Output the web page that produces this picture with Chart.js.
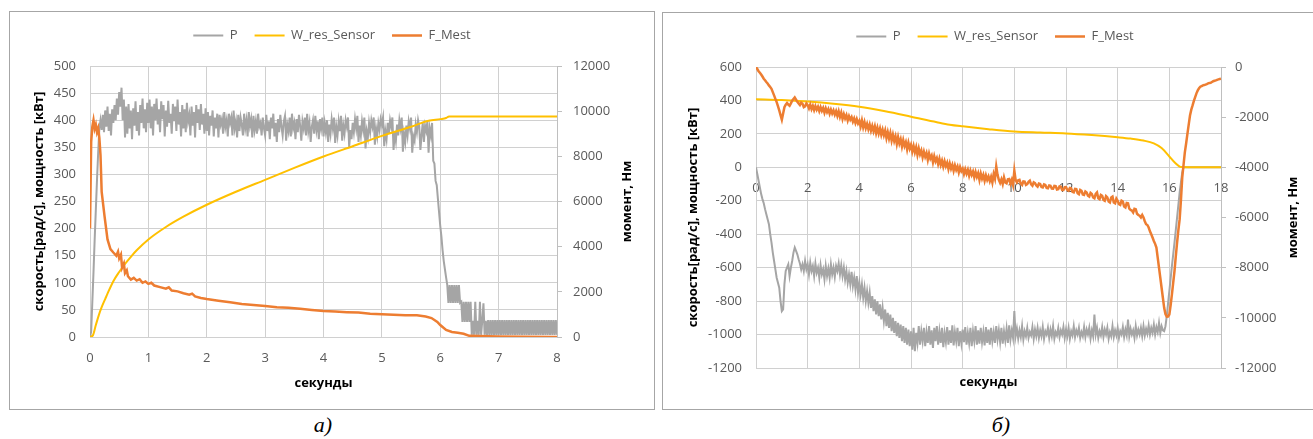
<!DOCTYPE html>
<html lang="ru">
<head>
<meta charset="utf-8">
<title>P, W_res_Sensor, F_Mest</title>
<script src="https://cdn.jsdelivr.net/npm/chart.js@4.4.1/dist/chart.umd.min.js"></script>
<style>
  html, body { margin: 0; padding: 0; background: #fff; }
  body { position: relative; width: 1313px; height: 439px; overflow: hidden; }
  .frame { position: absolute; border: 1px solid #a6a6a6; }
  .frame canvas { display: block; }
  #frameA { left: 9px; top: 11px; }
  #frameB { left: 662px; top: 12px; }
  .caption { position: absolute; top: 414px; width: 80px; text-align: center;
    font: italic 22px/22px "Liberation Serif", "DejaVu Serif", serif; color: #000; }
</style>
</head>
<body>
<div class="frame" id="frameA"><canvas id="chartA" width="644" height="397"></canvas></div>
<div class="frame" id="frameB"><canvas id="chartB" width="664" height="396"></canvas></div>
<div class="caption" style="left:283px">а)</div>
<div class="caption" style="left:961px">б)</div>
<script>
// Графики разгона (а) и торможения (б)

const LABELS = ['P', 'W_res_Sensor', 'F_Mest'];
const X_TITLE = 'секунды';
const Y_TITLE = 'скорость[рад/с], мощность [кВт]';
const Y2_TITLE = 'момент, Нм';

const GREY = '#a5a5a5';
const YELLOW = '#ffc000';
const ORANGE = '#ed7d31';
const GRID = '#d0d0d0';

// ---- а) разгон: ось X 0..8 с ----
const A_X_TICKS = [0, 8, 1];
const A_Y_TICKS = [0, 500, 50];
const A_Y2_TICKS = [0, 12000, 2000];

// P, кВт, шаг 0.02 с (по 50 точек на секунду)
const A_P_DT = 0.02;
const A_P = [
  // 0 c
  0, 10, 65, 120, 180, 235, 290, 340, 385, 400,
  382, 410, 378, 418, 388, 425, 380, 412, 372, 420,
  395, 428, 400, 440, 410, 452, 425, 460, 400, 438,
  368, 425, 375, 430, 385, 418, 365, 422, 390, 435,
  380, 415, 372, 428, 395, 440, 385, 420, 378, 432,
  // 1 c
  395, 438, 385, 425, 372, 430, 400, 440, 392, 420,
  378, 435, 402, 428, 370, 418, 388, 436, 395, 412,
  375, 430, 398, 425, 380, 438, 392, 415, 370, 428,
  385, 420, 378, 432, 398, 410, 372, 425, 390, 415,
  368, 428, 395, 420, 382, 430, 392, 412, 375, 422,
  // 2 c
  380, 415, 372, 408, 390, 418, 370, 405, 385, 412,
  368, 410, 392, 402, 375, 415, 388, 400, 370, 412,
  395, 405, 372, 418, 385, 398, 368, 410, 380, 405,
  392, 372, 412, 385, 400, 370, 415, 390, 402, 368,
  408, 382, 398, 375, 412, 388, 395, 372, 405, 385,
  // 3 c
  372, 410, 380, 398, 365, 405, 385, 412, 370, 395,
  360, 402, 378, 410, 388, 372, 398, 408, 362, 392,
  380, 405, 370, 412, 385, 395, 365, 402, 378, 410,
  390, 362, 398, 385, 405, 372, 412, 380, 395, 360,
  388, 400, 375, 408, 382, 398, 365, 402, 385, 405,
  // 4 c
  370, 395, 378, 400, 360, 392, 375, 402, 385, 405,
  358, 388, 372, 398, 380, 408, 362, 390, 375, 400,
  388, 405, 350, 382, 365, 395, 378, 402, 385, 408,
  360, 390, 372, 398, 382, 405, 348, 380, 368, 395,
  378, 400, 388, 405, 355, 385, 370, 395, 382, 402,
  // 5 c
  392, 405, 352, 380, 365, 395, 375, 400, 388, 405,
  345, 378, 362, 392, 372, 400, 385, 405, 342, 375,
  360, 390, 372, 398, 385, 405, 340, 370, 362, 392,
  378, 400, 388, 345, 372, 395, 360, 390, 380, 398,
  340, 385, 372, 395, 325, 320, 288, 280, 255, 230,
  // 6 c
  205, 185, 160, 140, 125, 110, 96, 63, 96, 63,
  96, 63, 96, 63, 96, 63, 96, 63, 65, 28,
  65, 28, 65, 28, 65, 28, 65, 4, 30, 4,
  65, 4, 30, 4, 65, 4, 30, 62, 4, 30,
  4, 31, 4, 31, 4, 31, 4, 31, 4, 31,
  // 7 c
  4, 31, 4, 31, 4, 31, 4, 31, 4, 31,
  4, 31, 4, 31, 4, 31, 4, 31, 4, 31,
  4, 31, 4, 31, 4, 31, 4, 31, 4, 31,
  4, 31, 4, 31, 4, 31, 4, 31, 4, 31,
  4, 31, 4, 31, 4, 31, 4, 31, 4, 31,
  // 8 c
  4,
];

// W_res_Sensor, рад/с: [t, value]
const A_W = [
  [0, 0], [0.05, 3], [0.1, 22], [0.15, 40], [0.2, 55], [0.26, 70], [0.3, 80], [0.4, 103],
  [0.5, 120], [0.6, 135], [0.7, 148], [0.8, 160], [1.0, 180], [1.3, 203], [1.6, 222],
  [2.0, 244], [2.5, 268], [3.0, 290], [3.5, 312], [4.0, 333], [4.5, 352], [5.0, 371],
  [5.5, 388], [5.8, 399], [6.0, 402], [6.1, 404], [6.15, 407], [8, 407],
];

// F_Mest, Нм: [t, value]
const A_F = [
  [0, 4800], [0.02, 8640], [0.04, 9310], [0.06, 9600], [0.08, 9220], [0.1, 9400], [0.12, 9070],
  [0.14, 9240], [0.16, 8830], [0.18, 8040], [0.2, 6430], [0.25, 5330], [0.3, 4320], [0.35, 3890],
  [0.4, 3740], [0.45, 3600], [0.48, 3780], [0.5, 3480], [0.53, 3650], [0.55, 3070], [0.58, 3250],
  [0.6, 2830], [0.63, 2950], [0.65, 2690], [0.7, 2540], [0.75, 2620], [0.8, 2500], [0.85, 2560],
  [0.9, 2400], [0.95, 2460], [1.0, 2350], [1.05, 2400], [1.1, 2280], [1.2, 2210], [1.3, 2140],
  [1.35, 2200], [1.4, 2060], [1.5, 2020], [1.6, 1940], [1.7, 1870], [1.75, 1920], [1.8, 1800],
  [1.9, 1730], [2.0, 1680], [2.2, 1610], [2.4, 1540], [2.6, 1460], [2.8, 1420], [3.0, 1370],
  [3.2, 1320], [3.4, 1300], [3.6, 1250], [3.8, 1200], [4.0, 1150], [4.2, 1130], [4.4, 1100],
  [4.6, 1080], [4.8, 1030], [5.0, 1010], [5.2, 985], [5.4, 960], [5.6, 960], [5.75, 910],
  [5.85, 840], [5.95, 670], [6.0, 530], [6.1, 310], [6.2, 220], [6.3, 190], [6.4, 145],
  [6.5, 50], [7.0, 25], [8.0, 5],
];

// ---- б) торможение: ось X 0..18 с ----
const B_X_TICKS = [0, 18, 2];
const B_Y_TICKS = [-1200, 600, 200];
const B_Y2_TICKS = [-12000, 0, 2000];

// P, кВт, шаг 0.05 с (по 20 точек на секунду)
const B_P_DT = 0.05;
const B_P = [
  0, -40, -80, -120, -160, -190, -215, -250, -280, -310, -340, -400, -450, -510, -560, -610, -660, -690, -720, -800,
  -860, -850, -700, -620, -600, -580, -650, -600, -560, -510, -480, -500, -520, -550, -575, -610, -580, -620, -560, -610,
  -580, -640, -570, -620, -590, -650, -575, -630, -600, -660, -585, -640, -610, -670, -590, -650, -605, -660, -580, -640,
  -600, -655, -590, -620, -575, -640, -585, -650, -600, -670, -620, -690, -640, -700, -625, -710, -660, -730, -650, -750,
  -690, -760, -700, -780, -720, -800, -740, -810, -750, -840, -770, -860, -790, -880, -800, -890, -820, -910, -840, -920,
  -850, -950, -870, -960, -880, -980, -900, -990, -920, -1010, -930, -1020, -940, -1040, -950, -1050, -960, -1060, -970, -1070,
  -980, -1090, -960, -1100, -990, -1050, -950, -1060, -980, -1040, -960, -1070, -985, -1050, -950, -1060, -975, -1080, -960, -1040,
  -950, -1060, -980, -1050, -960, -1075, -990, -1045, -955, -1060, -975, -1050, -945, -1065, -985, -1040, -960, -1070, -980, -1050,
  -970, -1045, -955, -1060, -990, -1050, -960, -1070, -980, -1040, -950, -1060, -975, -1055, -960, -1045, -985, -1065, -955, -1050,
  -970, -1060, -960, -1040, -985, -1050, -950, -1030, -975, -1045, -960, -1055, -980, -1035, -965, -1050, -945, -1030, -975, -1020,
  -860, -1010, -965, -1025, -975, -1015, -950, -1030, -980, -1010, -960, -1020, -985, -1005, -955, -1025, -970, -1010, -960, -1020,
  -975, -1010, -955, -1025, -980, -1000, -960, -1020, -970, -1010, -950, -1025, -985, -1005, -960, -1015, -975, -1000, -955, -1020,
  -970, -1010, -960, -1025, -980, -1005, -950, -1015, -975, -1000, -960, -1020, -985, -1010, -955, -1015, -970, -1000, -960, -1025,
  -975, -1010, -880, -1000, -960, -1020, -980, -1005, -955, -1015, -970, -1000, -960, -1025, -985, -1010, -950, -1015, -975, -1005,
  -960, -1020, -980, -1000, -955, -1015, -970, -1005, -910, -1010, -965, -1000, -975, -1020, -950, -1005, -970, -1000, -960, -1010,
  -950, -1005, -965, -995, -945, -1000, -960, -990, -940, -1000, -955, -985, -930, -990, -950, -975, -980, -950, -890, -815,
  -740, -665, -590, -520, -450, -375, -300, -225, -150, -90, -30, 0, 0, 0, 0, 0, 0, 0, 0, 0,
  0, 0, 0, 0, 0, 0, 0, 0, 0, 0, 0, 0, 0, 0, 0, 0, 0, 0, 0, 0,
  0,
];

// W_res_Sensor, рад/с: [t, value]
const B_W = [
  [0, 407], [1, 402], [2, 393], [3, 380], [4, 362], [5, 335], [6, 303], [7, 270], [7.5, 255],
  [8, 245], [9, 228], [10, 214], [11, 208], [12, 203], [13, 193], [14, 180], [14.5, 172],
  [15, 160], [15.4, 143], [15.7, 115], [16, 65], [16.2, 30], [16.45, 2], [18, 0],
];

// F_Mest, Нм, шаг 0.05 с
const B_F_DT = 0.05;
const B_F = [
  0, -80, -167, -230, -300, -380, -467, -530, -600, -660, -733, -800, -867, -1000, -1133, -1270, -1400, -1560, -1733, -1920,
  -2100, -1850, -1600, -1500, -1433, -1500, -1547, -1450, -1347, -1280, -1213, -1300, -1387, -1450, -1513, -1420, -1467, -1600, -1567, -1450,
  -1520, -1650, -1500, -1680, -1547, -1720, -1560, -1700, -1587, -1760, -1600, -1747, -1633, -1820, -1650, -1800, -1680, -1860, -1700, -1853,
  -1733, -1900, -1760, -1950, -1767, -1990, -1820, -2067, -1880, -2050, -1920, -2133, -1960, -2100, -2000, -2180, -2050, -2233, -2080, -2250,
  -2150, -2367, -2133, -2400, -2200, -2433, -2267, -2480, -2300, -2533, -2350, -2560, -2367, -2633, -2420, -2650, -2453, -2700, -2500, -2720,
  -2533, -2833, -2600, -2850, -2633, -2933, -2700, -2950, -2767, -3067, -2800, -3050, -2880, -3167, -2920, -3150, -3000, -3280, -3020, -3250,
  -3100, -3367, -3150, -3400, -3200, -3500, -3250, -3480, -3333, -3600, -3380, -3580, -3433, -3700, -3450, -3650, -3533, -3800, -3560, -3760,
  -3633, -3867, -3660, -3900, -3733, -3967, -3760, -3950, -3813, -4067, -3850, -4050, -3900, -4133, -3920, -4100, -3967, -4200, -3990, -4150,
  -4053, -4267, -4080, -4250, -4100, -4333, -4130, -4300, -4167, -4400, -4190, -4380, -4233, -4500, -4250, -4450, -4300, -4533, -4320, -4500,
  -4367, -4550, -4380, -4600, -4267, -4450, -3967, -4300, -4500, -4620, -4480, -4667, -4400, -4600, -4633, -4480, -4467, -4650, -4500, -4700,
  -4133, -4500, -4600, -4520, -4500, -4650, -4700, -4560, -4567, -4700, -4667, -4580, -4533, -4680, -4733, -4600, -4633, -4720, -4767, -4650,
  -4667, -4780, -4800, -4680, -4700, -4820, -4833, -4720, -4733, -4850, -4853, -4740, -4747, -4880, -4867, -4760, -4767, -4900, -4900, -4790,
  -4787, -4900, -4933, -4820, -4833, -4980, -5000, -4860, -4867, -5030, -5067, -4900, -4933, -5080, -5100, -4960, -5000, -5130, -5167, -5020,
  -5067, -5200, -5233, -5060, -5000, -5230, -5267, -5100, -5133, -5300, -5333, -5150, -5200, -5360, -5400, -5200, -5167, -5400, -5433, -5250,
  -5333, -5470, -5500, -5330, -5367, -5560, -5600, -5420, -5433, -5650, -5700, -5720, -5800, -5650, -5667, -5850, -5900, -5930, -6000, -5900,
  -6000, -6150, -6267, -6300, -6400, -6550, -6667, -6800, -6933, -7050, -7200, -7600, -8000, -8400, -8800, -9200, -9600, -9850, -9953, -9950,
  -9867, -9500, -9067, -8600, -8133, -7550, -7000, -6500, -6067, -5300, -4400, -3900, -3400, -3050, -2667, -2300, -1933, -1700, -1533, -1350,
  -1200, -1050, -933, -850, -787, -760, -733, -720, -700, -680, -653, -640, -633, -600, -567, -550, -533, -510, -493, -480,
  -467,
];

Chart.defaults.font.family = '"Open Sans", "DejaVu Sans", sans-serif';
Chart.defaults.font.size = 13;
Chart.defaults.color = '#595959';

const stepped = (values, dt) => values.map((v, i) => ({ x: i * dt, y: v }));
const pairs = (list) => list.map(([x, y]) => ({ x, y }));
const plain = (v) => String(v);

// подпись правой оси читается снизу вверх, как в Excel
const rightTitle = {
  id: 'rightTitle',
  afterDraw(chart, args, opts) {
    const { ctx, chartArea } = chart;
    ctx.save();
    ctx.translate(opts.x, (chartArea.top + chartArea.bottom) / 2);
    ctx.rotate(-Math.PI / 2);
    ctx.font = 'bold 13px "Open Sans", "DejaVu Sans", sans-serif';
    ctx.fillStyle = '#000';
    ctx.textAlign = 'center';
    ctx.textBaseline = 'middle';
    ctx.fillText(opts.text, 0, 0);
    ctx.restore();
  },
};

function titleFont() {
  return { weight: 'bold', size: 13 };
}

function makeChart(canvas, c) {
  const scales = {
    x: {
      type: 'linear', min: c.xt[0], max: c.xt[1],
      position: c.xAtZero ? { y: 0 } : 'bottom',
      ticks: { stepSize: c.xt[2], padding: 13, callback: plain, autoSkip: false, maxRotation: 0 },
      grid: { color: GRID, drawTicks: false },
      border: { color: GRID },
      title: c.xAtZero ? { display: false } :
        { display: true, text: X_TITLE, color: '#000', font: titleFont(), padding: { top: 0, bottom: 18 } },
      afterFit: (s) => { if (!c.xAtZero) s.height = c.xH; },
    },
    y: {
      type: 'linear', position: 'left', min: c.yt[0], max: c.yt[1],
      ticks: { stepSize: c.yt[2], padding: 14, callback: plain },
      grid: { color: GRID, drawTicks: false },
      border: { color: GRID },
      title: { display: true, text: Y_TITLE, color: '#000', font: titleFont(), padding: { top: c.yTitlePad, bottom: 0 } },
      afterFit: (s) => { s.width = c.yW; },
    },
    y2: {
      type: 'linear', position: 'right', min: c.y2t[0], max: c.y2t[1],
      ticks: { stepSize: c.y2t[2], padding: c.y2Pad, callback: plain },
      grid: { color: '#bfbfbf', drawOnChartArea: false, drawTicks: true, tickLength: 5 },
      border: { color: '#bfbfbf' },
      afterFit: (s) => { s.width = c.y2W; },
    },
  };
  if (c.xAtZero) {
    // отдельная нижняя ось только для подписи «секунды»
    scales.xt = {
      type: 'linear', axis: 'x', position: 'bottom', min: c.xt[0], max: c.xt[1],
      ticks: { display: false },
      grid: { display: false },
      border: { display: false },
      title: { display: true, text: X_TITLE, color: '#000', font: titleFont(), padding: { top: 0, bottom: 19 } },
      afterFit: (s) => { s.height = c.xH; },
    };
  }

  return new Chart(canvas, {
    type: 'line',
    data: {
      datasets: [
        { label: LABELS[0], data: c.p, borderColor: GREY, backgroundColor: GREY, borderWidth: 2, yAxisID: 'y', order: 3 },
        { label: LABELS[1], data: c.w, borderColor: YELLOW, backgroundColor: YELLOW, borderWidth: 2, yAxisID: 'y', order: 2,
          cubicInterpolationMode: 'monotone' },
        { label: LABELS[2], data: c.f, borderColor: ORANGE, backgroundColor: ORANGE, borderWidth: 2.5, yAxisID: 'y2', order: 1 },
      ],
    },
    options: {
      responsive: false,
      animation: false,
      events: [],
      layout: { padding: 0 },
      elements: { point: { radius: 0 }, line: { tension: 0 } },
      plugins: {
        legend: {
          position: 'top',
          labels: {
            usePointStyle: true, pointStyle: 'line', pointStyleWidth: 30,
            padding: 17, color: '#595959', font: { size: 13 },
            sort: (a, b) => a.datasetIndex - b.datasetIndex,
          },
        },
        // пустой отступ между легендой и областью построения
        subtitle: { display: true, text: '', weight: 500, font: { size: 1 }, padding: { top: 0, bottom: 12.8 } },
        tooltip: { enabled: false },
        rightTitle: { text: Y2_TITLE, x: c.y2TitleX },
      },
      scales,
    },
    plugins: [rightTitle],
  });
}

makeChart(document.getElementById('chartA'), {
  p: stepped(A_P, A_P_DT), w: pairs(A_W), f: pairs(A_F),
  xt: A_X_TICKS, yt: A_Y_TICKS, y2t: A_Y2_TICKS,
  xAtZero: false, xH: 72, yW: 80, y2W: 97, y2Pad: 11, yTitlePad: 21, y2TitleX: 617,
});

makeChart(document.getElementById('chartB'), {
  p: stepped(B_P, B_P_DT), w: pairs(B_W), f: stepped(B_F, B_F_DT),
  xt: B_X_TICKS, yt: B_Y_TICKS, y2t: B_Y2_TICKS,
  xAtZero: true, xH: 41, yW: 93, y2W: 106, y2Pad: 9, yTitlePad: 22, y2TitleX: 630,
});
</script>
</body>
</html>
